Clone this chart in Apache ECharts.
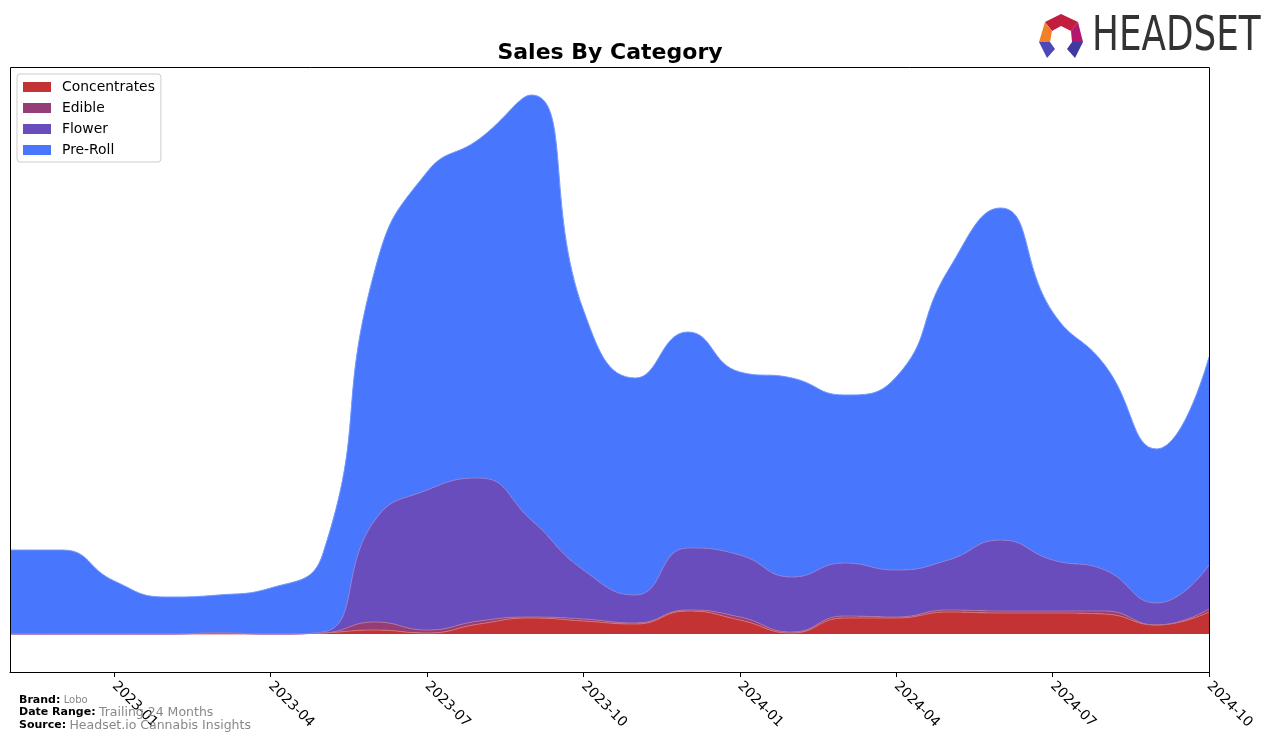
<!DOCTYPE html>
<html>
<head>
<meta charset="utf-8">
<script src="https://cdn.jsdelivr.net/npm/echarts@6/dist/echarts.min.js"></script>
<style>
html,body{margin:0;padding:0;background:#fff;}
#chart{width:1276px;height:743px;}
</style>
</head>
<body>
<div id="chart"></div>
<script>
// ---- data ----
const months = ['2022-11','2022-12','2023-01','2023-02','2023-03','2023-04','2023-05','2023-06','2023-07','2023-08','2023-09','2023-10','2023-11','2023-12','2024-01','2024-02','2024-03','2024-04','2024-05','2024-06','2024-07','2024-08','2024-09','2024-10'];
const concentrates = [0,0,0,0,0,0,1,4,1,10,16,13,10,23,14,1,16,16,22,21,21,20,9,22];
const edible       = [0,0,0,0,1,0,0,8,3,3,1,2,1,1,3,1,2,1,2,2,2,3,0,3];
const flower       = [0,0,0,0,0,0,1,102,140,143,97,49,28,62,62,55,53,47,50,71,51,41,22,44];
const preRoll      = [84,84,53,37,38,46,78,250,318,339,425,260,217,216,183,199,168,193,290,332,248,205,154,208];
const tickLabels = ['2023-01','2023-04','2023-07','2023-10','2024-01','2024-04','2024-07','2024-10'];
const seriesNames = ['Concentrates','Edible','Flower','Pre-Roll'];

const colors = ['#c43333','#953d76','#6a4dbd','#4877fe'];
const lineColors = ['#d87070','#b27299','#8d7bd2','#7298ff'];
const values = [concentrates, edible, flower, preRoll];

const chart = echarts.init(document.getElementById('chart'), null, {renderer:'canvas'});
const gridL = 10, gridR = 67, gridT = 67, gridB = 71;
const W = 1276, H = 743;

const series = seriesNames.map((n,i)=>({
  name: n,
  type: 'line',
  stack: 'total',
  smooth: 0.5,
  showSymbol: false,
  symbol: 'none',
  itemStyle: {color: colors[i]},
  lineStyle: {width: 1, color: lineColors[i]},
  areaStyle: {color: colors[i], opacity: 1},
  data: values[i]
}));

const showTick = (idx) => tickLabels.indexOf(months[idx]) >= 0;

chart.setOption({
  animation: false,
  backgroundColor: '#fff',
  grid: {left: gridL, right: gridR, top: gridT, bottom: gridB, containLabel: false},
  xAxis: {
    type: 'category',
    data: months,
    boundaryGap: false,
    axisLine: {show: true, onZero: false, lineStyle: {color: '#000', width: 1}},
    axisTick: {show: true, interval: showTick, length: 5, lineStyle: {color: '#000'}},
    axisLabel: {
      interval: showTick,
      rotate: -45,
      margin: 12,
      color: '#000',
      fontSize: 13.9,
      fontFamily: 'DejaVu Sans'
    },
    splitLine: {show: false}
  },
  yAxis: {
    type: 'value',
    min: -38,
    max: 567,
    show: false,
    splitLine: {show: false}
  },
  legend: {
    data: seriesNames,
    orient: 'vertical',
    left: 17,
    top: 74,
    padding: [6, 6, 5, 6],
    itemWidth: 28,
    itemHeight: 10,
    itemGap: 7,
    icon: 'rect',
    backgroundColor: 'rgba(255,255,255,0.85)',
    borderColor: '#cccccc',
    borderWidth: 1,
    borderRadius: 3,
    textStyle: {fontSize: 13.9, fontFamily: 'DejaVu Sans', color: '#000', lineHeight: 14, padding: [0,0,0,6]},
    selectedMode: false
  },
  series: series,
  graphic: [
    {type:'rect', z: 100, silent: true,
     shape:{x: gridL+0.5, y: gridT+0.5, width: W-gridL-gridR, height: H-gridT-gridB},
     style:{fill: 'none', stroke: '#000', lineWidth: 1}},
    {type:'text', z: 100, x: 610, y: 53, silent: true,
     style:{text:'Sales By Category', font:'bold 22px "DejaVu Sans"', fill:'#000', textAlign:'center', textVerticalAlign:'middle'}},
    {type:'text', z: 100, x: 19, y: 700, silent: true,
     style:{text:'{b|Brand:} {g|Lobo}', textVerticalAlign:'middle',
       rich:{b:{font:'bold 11px "DejaVu Sans"', fill:'#000'}, g:{font:'10px "DejaVu Sans"', fill:'#888'}}}},
    {type:'text', z: 100, x: 19, y: 712.5, silent: true,
     style:{text:'{b|Date Range:} {g|Trailing 24 Months}', textVerticalAlign:'middle',
       rich:{b:{font:'bold 11px "DejaVu Sans"', fill:'#000'}, g:{font:'12.5px "DejaVu Sans"', fill:'#888'}}}},
    {type:'text', z: 100, x: 19, y: 725.5, silent: true,
     style:{text:'{b|Source:} {g|Headset.io Cannabis Insights}', textVerticalAlign:'middle',
       rich:{b:{font:'bold 11px "DejaVu Sans"', fill:'#000'}, g:{font:'12.5px "DejaVu Sans"', fill:'#888'}}}},
    // logo
    {type:'polygon', z: 100, silent: true, shape:{points:[[1045,22],[1061,14],[1078,22],[1071,31],[1061,26],[1052,31]]}, style:{fill:'#c21d3e'}},
    {type:'polygon', z: 100, silent: true, shape:{points:[[1045,22],[1052,31],[1050,42],[1039,42]]}, style:{fill:'#f0802a'}},
    {type:'polygon', z: 100, silent: true, shape:{points:[[1078,22],[1083,42],[1072,42],[1071,31]]}, style:{fill:'#b3176e'}},
    {type:'polygon', z: 100, silent: true, shape:{points:[[1039,42],[1050,42],[1055,49],[1047,58]]}, style:{fill:'#4e47b8'}},
    {type:'polygon', z: 100, silent: true, shape:{points:[[1072,42],[1083,42],[1075,58],[1067,49]]}, style:{fill:'#3f3a9e'}},
    {type:'text', z: 100, x: 1092, y: 38, scaleX: 0.745, silent: true,
     style:{text:'HEADSET', font:'48px "DejaVu Sans"', fill:'#333333', textVerticalAlign:'middle'}}
  ]
});
</script>
</body>
</html>
